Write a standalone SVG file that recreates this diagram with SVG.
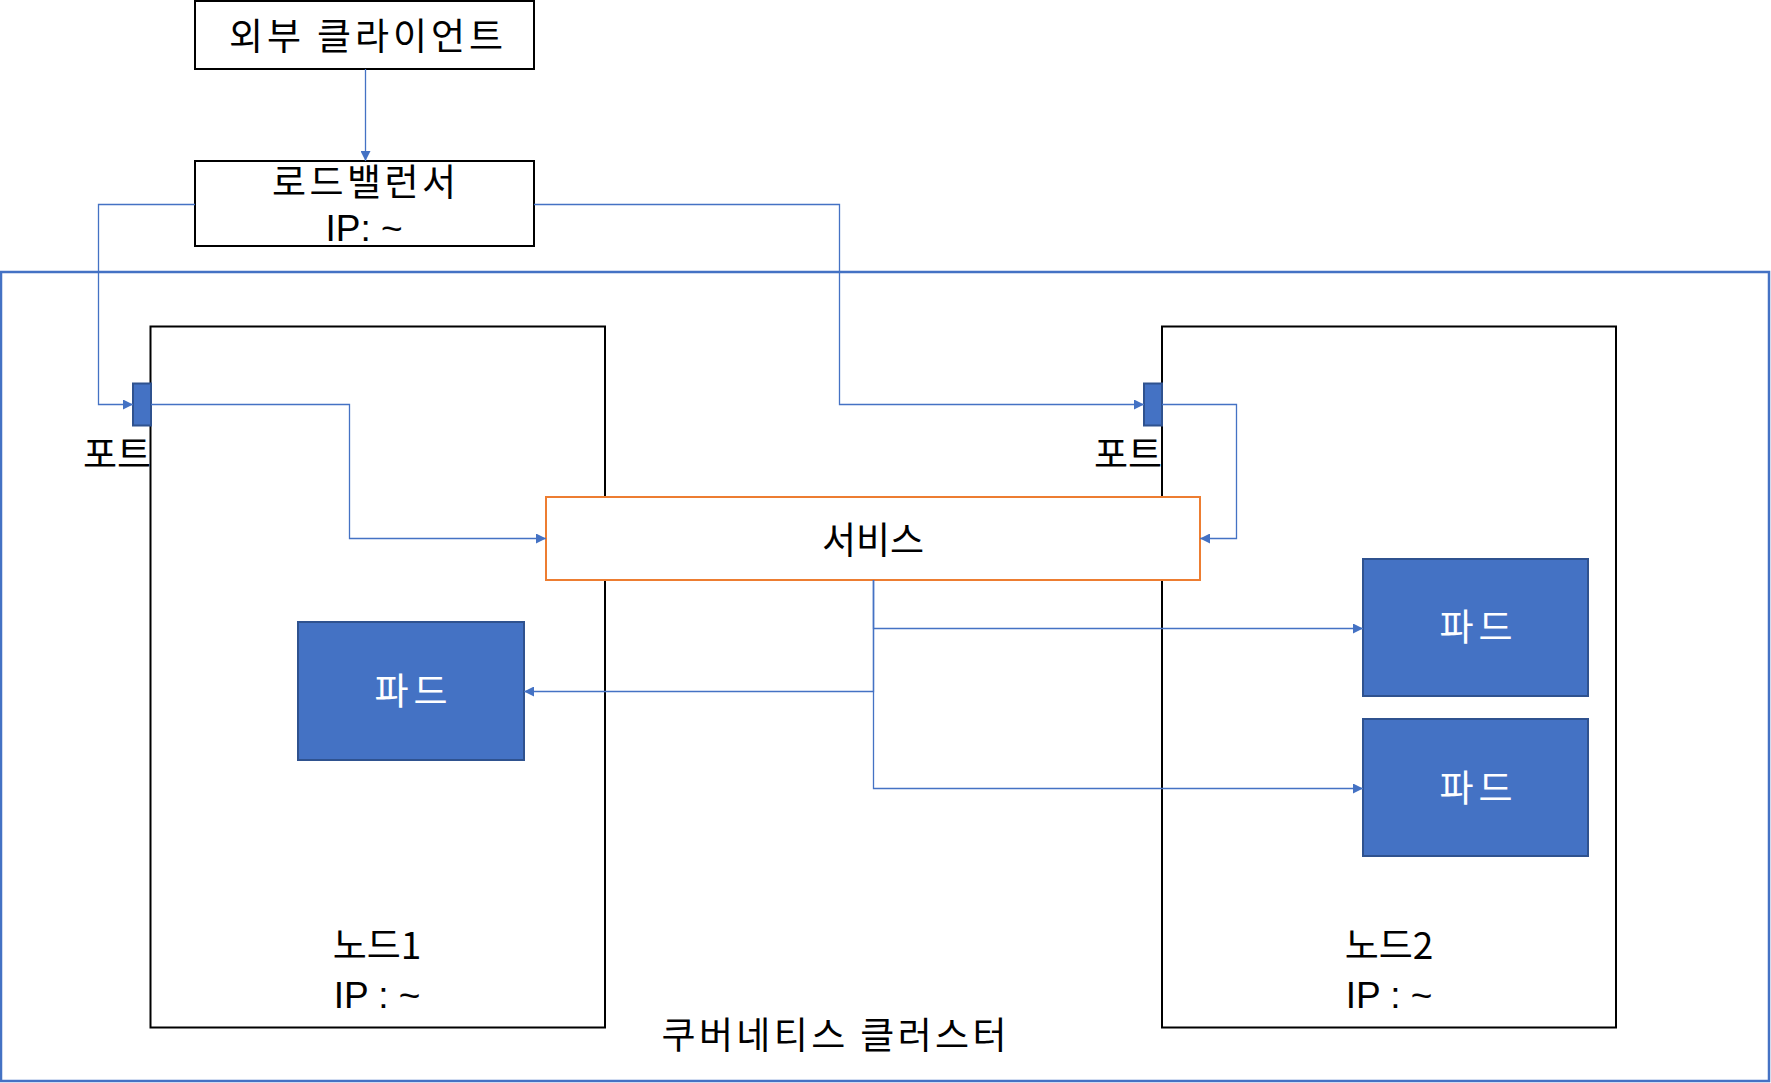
<svg xmlns="http://www.w3.org/2000/svg" width="1771" height="1083" viewBox="0 0 1771 1083">
<style>
text{font-family:"Noto Sans CJK KR","Noto Sans",sans-serif;font-size:37px;fill:#000;text-anchor:middle}
.ip{font-family:"Liberation Sans","Noto Sans",sans-serif;font-size:37px}
.box{fill:#fff;stroke:#000;stroke-width:2}
.pod{fill:#4472C4;stroke:#2F528F;stroke-width:2}
.pod-t{fill:#fff}
.port{fill:#4472C4;stroke:#2F528F;stroke-width:2}
.conn{fill:none;stroke:#4472C4;stroke-width:1.3}
</style>
<defs>
<marker id="arr" viewBox="0 0 10 10" refX="10" refY="5" markerWidth="10" markerHeight="10" markerUnits="userSpaceOnUse" orient="auto">
<path d="M0,0 L10,5 L0,10 z" fill="#4472C4"/>
</marker>
</defs>
<g id="cluster">
<rect x="1" y="272" width="1768" height="809" fill="#fff" stroke="#4472C4" stroke-width="2.5"/>
<text x="834" y="1049" textLength="345" lengthAdjust="spacing">쿠버네티스 클러스터</text>
</g>
<g id="client">
<rect class="box" x="195" y="1" width="339" height="68"/>
<text x="366" y="50" textLength="274" lengthAdjust="spacing">외부 클라이언트</text>
</g>
<g id="loadbalancer">
<rect class="box" x="195" y="161" width="339" height="85"/>
<text x="364" y="196" textLength="184" lengthAdjust="spacing">로드밸런서</text>
<text class="ip" x="364" y="241">IP: ~</text>
</g>
<g id="node1">
<rect class="box" x="150.5" y="326.5" width="454.5" height="701"/>
<text x="377" y="959">노드1</text>
<text class="ip" x="377" y="1008">IP : ~</text>
</g>
<g id="node2">
<rect class="box" x="1162" y="326.5" width="454" height="701"/>
<text x="1389" y="959">노드2</text>
<text class="ip" x="1389" y="1008">IP : ~</text>
</g>
<g id="port1">
<rect class="port" x="133" y="383.5" width="18" height="42"/>
<text x="151" y="468" style="text-anchor:end">포트</text>
</g>
<g id="port2">
<rect class="port" x="1144" y="383.5" width="18" height="42"/>
<text x="1162" y="468" style="text-anchor:end">포트</text>
</g>
<g id="service">
<rect x="546" y="497" width="654" height="83" fill="#fff" stroke="#ED7D31" stroke-width="2"/>
<text x="873" y="554">서비스</text>
</g>
<g id="pod1">
<rect class="pod" x="298" y="622" width="226" height="138"/>
<text class="pod-t" x="411" y="705" textLength="73" lengthAdjust="spacing">파드</text>
</g>
<g id="pod2a">
<rect class="pod" x="1363" y="559" width="225" height="137"/>
<text class="pod-t" x="1476" y="641" textLength="73" lengthAdjust="spacing">파드</text>
</g>
<g id="pod2b">
<rect class="pod" x="1363" y="719" width="225" height="137"/>
<text class="pod-t" x="1476" y="802" textLength="73" lengthAdjust="spacing">파드</text>
</g>
<g id="connectors">
<path class="conn" d="M365.5 69 V161" marker-end="url(#arr)"/>
<path class="conn" d="M195 204.5 H98.5 V404.5 H133" marker-end="url(#arr)"/>
<path class="conn" d="M534 204.5 H839.5 V404.5 H1144" marker-end="url(#arr)"/>
<path class="conn" d="M151 404.5 H349.5 V538.5 H546" marker-end="url(#arr)"/>
<path class="conn" d="M1162 404.5 H1236.5 V538.5 H1200" marker-end="url(#arr)"/>
<path class="conn" d="M873.5 580 V628.5 H1363" marker-end="url(#arr)"/>
<path class="conn" d="M873.5 580 V691.5 H524" marker-end="url(#arr)"/>
<path class="conn" d="M873.5 580 V788.5 H1363" marker-end="url(#arr)"/>
</g>
</svg>
